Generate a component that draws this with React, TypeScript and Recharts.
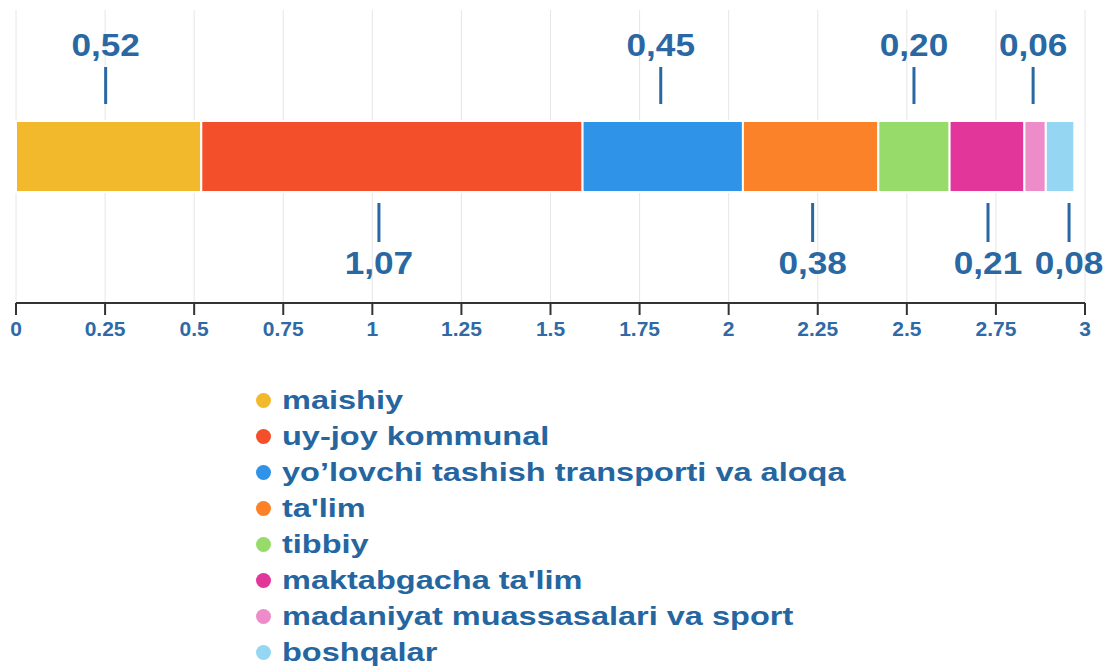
import React from 'react';
import { BarChart, Bar, XAxis, YAxis, CartesianGrid, LabelList } from 'recharts';

const categories = [
  'maishiy',
  'uy-joy kommunal',
  'yo’lovchi tashish transporti va aloqa',
  "ta'lim",
  'tibbiy',
  "maktabgacha ta'lim",
  'madaniyat muassasalari va sport',
  'boshqalar',
];
const values = [0.52, 1.07, 0.45, 0.38, 0.2, 0.21, 0.06, 0.08];
const valueLabels = ['0,52', '1,07', '0,45', '0,38', '0,20', '0,21', '0,06', '0,08'];
const colors = ['#F3B92C', '#F44F2B', '#2F93E8', '#FB8229', '#97DB6A', '#E2369A', '#EE8CC9', '#95D7F2'];
const xTicks = [0, 0.25, 0.5, 0.75, 1, 1.25, 1.5, 1.75, 2, 2.25, 2.5, 2.75, 3];
const tickLabels = ['0', '0.25', '0.5', '0.75', '1', '1.25', '1.5', '1.75', '2', '2.25', '2.5', '2.75', '3'];

const keys = categories.map((_, i) => 's' + i);
const row: Record<string, any> = { name: 'total' };
keys.forEach((k, i) => {
  row[k] = values[i];
});
const data = [row];

const LABEL_COLOR = '#2A68A3';
const FONT = '"Liberation Sans", Arial, sans-serif';
// small horizontal nudges of the leader labels (style only)
const LABEL_NUDGE = [-3, -13, -2, 2, 0, 1, -2, 9];

const makeLabel = (i: number) => (props: any) => {
  const x = Number(props.x);
  const y = Number(props.y);
  const w = Number(props.width);
  const h = Number(props.height);
  const cx = x + w / 2 + LABEL_NUDGE[i];
  const up = i % 2 === 0;
  const ty = up ? y - 76 : y + h + 71;
  const l1 = up ? y - 54 : y + h + 11;
  const l2 = up ? y - 17 : y + h + 50;
  return (
    <g>
      <line x1={cx} x2={cx} y1={l1} y2={l2} stroke={LABEL_COLOR} strokeWidth={3} />
      <text
        transform={`translate(${cx},${ty}) scale(1.1,1)`}
        x={0}
        y={0}
        textAnchor="middle"
        dominantBaseline="central"
        fill={LABEL_COLOR}
        fontSize={32}
        fontWeight="bold"
        fontFamily={FONT}
      >
        {valueLabels[i]}
      </text>
    </g>
  );
};

const Tick = (props: any) => {
  const { x, y, payload } = props;
  const idx = xTicks.indexOf(payload.value);
  return (
    <text x={x} y={y} dy="0.71em" textAnchor="middle" fill="#2F6AA6" fontSize={21} fontWeight="bold" fontFamily={FONT}>
      {idx >= 0 ? tickLabels[idx] : String(payload.value)}
    </text>
  );
};

export default function App() {
  return (
    <div style={{ position: 'absolute', left: 0, top: 0, width: 1104, height: 667, background: '#fff', overflow: 'hidden' }}>
      <BarChart
        width={1104}
        height={345}
        data={data}
        layout="vertical"
        margin={{ top: 10, right: 19, bottom: 12, left: 16 }}
      >
        <CartesianGrid horizontal={false} stroke="#E6E6E6" />
        <XAxis
          type="number"
          domain={[0, 3]}
          ticks={xTicks}
          interval={0}
          height={30}
          axisLine={{ stroke: '#333', strokeWidth: 2 }}
          tickLine={{ stroke: '#333', strokeWidth: 2 }}
          tickSize={12}
          tickMargin={6}
          tick={<Tick />}
        />
        <YAxis type="category" dataKey="name" hide width={0} />
        {keys.map((k, i) => (
          <Bar key={k} dataKey={k} stackId="a" fill={colors[i]} stroke="#fff" strokeWidth={2} barSize={71} isAnimationActive={false}>
            <LabelList dataKey={k} content={makeLabel(i)} />
          </Bar>
        ))}
      </BarChart>
      <div style={{ position: 'absolute', left: 256, top: 382, fontFamily: FONT }}>
        {categories.map((c, i) => (
          <div key={c} style={{ height: 36, display: 'flex', alignItems: 'center' }}>
            <span style={{ display: 'inline-block', width: 15, height: 15, borderRadius: '50%', background: colors[i], marginRight: 11 }} />
            <span
              style={{
                color: '#2566A1',
                fontSize: 26,
                fontWeight: 'bold',
                whiteSpace: 'nowrap',
                display: 'inline-block',
                transform: 'scaleX(1.25)',
                transformOrigin: 'left center',
              }}
            >
              {c}
            </span>
          </div>
        ))}
      </div>
    </div>
  );
}
